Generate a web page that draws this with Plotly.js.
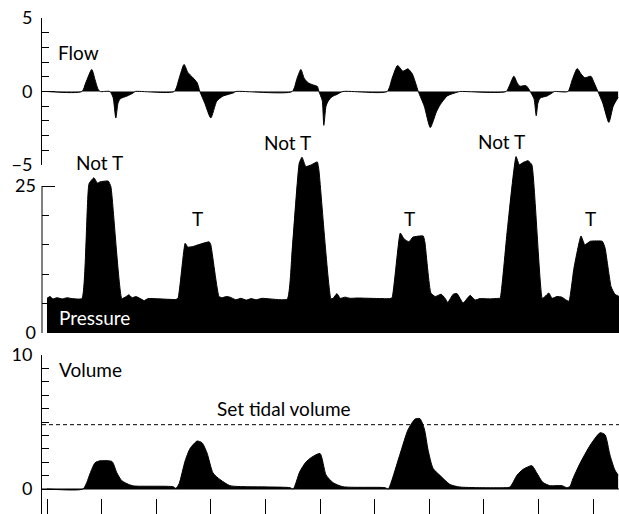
<!DOCTYPE html>
<html>
<head>
<meta charset="utf-8">
<script src="https://cdn.plot.ly/plotly-3.0.1.min.js"></script>
<style>html,body{margin:0;padding:0;background:#fff;}#chart{width:619px;height:514px;}</style>
</head>
<body>
<div id="chart"></div>
<script>
// ---- Data (time in s) ----
var flowTime = [0, 0.64, 0.71, 0.82, 0.88, 0.93, 0.97, 1.15, 1.21, 1.26, 1.30, 1.34, 1.47, 1.58, 1.61,
  2.33, 2.42, 2.51, 2.58, 2.67, 2.75, 2.80, 2.89, 3.00, 3.11, 3.22, 3.41, 3.46,
  4.49, 4.58, 4.65, 4.71, 4.78, 4.87, 4.95, 4.98, 5.04, 5.07, 5.11, 5.15, 5.22, 5.31, 5.42,
  6.23, 6.32, 6.42, 6.52, 6.61, 6.69, 6.74, 6.80, 6.91, 7.02, 7.13, 7.20, 7.33, 7.51, 7.56,
  8.41, 8.48, 8.55, 8.61, 8.66, 8.77, 8.81, 8.85, 8.92, 8.96, 8.99, 9.03, 9.16, 9.25, 9.29,
  9.54, 9.62, 9.71, 9.78, 9.85, 9.96, 10.02, 10.09, 10.18, 10.29, 10.37, 10.46];
var flowValue = [0, 0, 0.6, 1.5, 0.8, 0.2, 0, 0, -0.4, -1.8, -0.8, -0.5, -0.3, -0.1, 0,
  0, 0.9, 1.84, 1.3, 0.95, 0.6, 0, -0.8, -1.8, -0.65, -0.32, -0.1, 0,
  0, 0.9, 1.5, 0.9, 0.6, 0.45, 0.35, 0, -0.6, -2.3, -1.0, -0.65, -0.35, -0.2, 0,
  0, 0.9, 1.77, 1.38, 1.54, 1.2, 0.7, 0, -1.0, -2.45, -1.4, -0.9, -0.3, -0.05, 0,
  0, 0.5, 1.04, 0.6, 0.36, 0.4, 0.25, 0, -0.5, -1.65, -0.8, -0.45, -0.3, -0.1, 0,
  0, 0.8, 1.56, 1.2, 0.93, 1.04, 0.6, 0, -0.8, -2.1, -1.0, -0.4];

var pressureTime = [0, 0.055, 0.11, 0.18, 0.28, 0.37, 0.46, 0.64, 0.77, 0.86, 0.92, 0.97, 1.12, 1.17, 1.37,
  1.45, 1.50, 1.56, 1.63, 1.70, 1.78, 1.85, 2.36, 2.40, 2.53, 2.58, 2.67, 2.77, 2.97, 3.00, 3.15,
  3.21, 3.28, 3.35, 3.46, 3.55, 3.65, 3.74, 3.83, 3.94, 4.08, 4.40, 4.49, 4.62, 4.67, 4.74, 4.84, 4.95, 4.98, 5.20,
  5.24, 5.31, 5.37, 5.46, 5.55, 5.68, 6.28, 6.32, 6.47, 6.54, 6.63, 6.70, 6.89, 6.92, 7.03,
  7.11, 7.22, 7.29, 7.34, 7.44, 7.51, 7.62, 7.75, 7.84, 7.93, 8.11, 8.28, 8.30, 8.43, 8.59, 8.65, 8.72, 8.81, 8.88, 9.07,
  9.12, 9.19, 9.25, 9.34, 9.43, 9.51, 9.56, 9.65, 9.78, 9.85, 9.95, 10.17, 10.22, 10.33, 10.40, 10.48];
var pressureValue = [5.9, 6.2, 5.8, 6.0, 5.8, 6.0, 5.85, 5.85, 25.4, 26.4, 25.5, 25.7, 25.85, 24.9, 5.85,
  6.2, 6.5, 6.0, 6.2, 5.9, 5.5, 5.85, 5.7, 5.9, 15.25, 14.6, 14.7, 15.0, 15.5, 15.0, 6.2,
  6.0, 6.2, 6.1, 5.65, 5.9, 5.6, 5.85, 5.65, 5.9, 5.8, 5.75, 14.1, 28.9, 29.9, 28.3, 28.6, 29.1, 27.7, 5.8,
  5.9, 6.7, 5.9, 6.1, 5.9, 5.95, 5.85, 6.0, 17.0, 16.0, 15.5, 16.3, 16.5, 15.5, 6.8,
  6.2, 6.6, 5.9, 5.2, 6.6, 6.7, 5.1, 6.4, 5.6, 5.85, 5.8, 5.9, 5.9, 17.5, 30.0, 28.6, 29.0, 29.3, 28.6, 5.9,
  6.2, 6.8, 5.9, 6.2, 6.1, 5.6, 5.4, 11.0, 16.5, 15.0, 15.6, 15.6, 14.5, 7.9, 6.6, 6.2];

var volumeTime = [0, 0.66, 0.73, 0.79, 0.88, 0.97, 1.19, 1.28, 1.37, 1.52, 1.61, 2.31, 2.36,
  2.42, 2.53, 2.62, 2.75, 2.84, 2.93, 3.04, 3.17, 3.35, 3.54, 4.45, 4.51,
  4.63, 4.74, 4.84, 5.00, 5.11, 5.24, 5.42, 6.19, 6.25,
  6.32, 6.47, 6.61, 6.74, 6.83, 6.91, 6.98, 7.07, 7.20, 7.38, 7.56, 8.39,
  8.48, 8.61, 8.72, 8.88, 8.97, 9.08, 9.21, 9.43, 9.52, 9.58,
  9.63, 9.76, 9.95, 10.13, 10.22, 10.31, 10.40, 10.46];
var volumeValue = [0, 0, 0.5, 1.17, 1.96, 2.1, 2.05, 1.2, 0.62, 0.3, 0.22, 0.17, 0.05,
  0.4, 2.1, 3.03, 3.58, 3.45, 2.7, 1.2, 0.7, 0.25, 0.18, 0.1, 0.0,
  1.3, 2.0, 2.35, 2.65, 1.05, 0.47, 0.17, 0.1, 0.0,
  0.7, 2.66, 4.4, 5.22, 5.25, 4.5, 2.9, 1.54, 1.0, 0.34, 0.15, 0.1,
  0.15, 1.04, 1.47, 1.74, 1.2, 0.5, 0.25, 0.25, 0.1, 0.2,
  0.75, 1.9, 3.28, 4.2, 4.05, 2.54, 1.42, 1.04];

var setTidalVolume = 4.8;
var timeTicks = [0, 1, 2, 3, 4, 5, 6, 7, 8, 9, 10];

var flowTicks = [-5, 0, 5];
var flowTickText = ['\u22125', '0', '5'];
var flowMinorTicks = [-4, -3, -2, -1, 1, 2, 3, 4];
var pressureTicks = [0, 25];
var pressureMinorTicks = [5, 10, 15, 20];
var volumeTicks = [0, 10];
var volumeMinorTicks = [1, 2, 3, 4, 5, 6, 7, 8, 9];

// "Not T" labels sit in the gap above the pressure panel (placed on the flow scale)
var notTLabelTime = [0.96, 4.41, 8.32];
var notTLabelFlow = [-4.86, -3.44, -3.42];
var tLabelTime = [2.75, 6.63, 9.95];
var tLabelPressure = [19.4, 19.4, 19.4];

// ---- Layout geometry ----
var H = 514;
function dom(pxBottom, pxTop) { return [1 - pxBottom / H, 1 - pxTop / H]; }
var FONT = 'Lato, "DejaVu Sans", sans-serif';

var traces = [
  {x: flowTime, y: flowValue, xaxis: 'x', yaxis: 'y', type: 'scatter', mode: 'lines',
   fill: 'tozeroy', fillcolor: '#000', line: {color: '#000', width: 1, shape: 'spline', smoothing: 0.6}, hoverinfo: 'skip'},
  {x: pressureTime, y: pressureValue, xaxis: 'x', yaxis: 'y2', type: 'scatter', mode: 'lines',
   fill: 'tozeroy', fillcolor: '#000', line: {color: '#000', width: 1, shape: 'spline', smoothing: 0.4}, hoverinfo: 'skip'},
  {x: volumeTime, y: volumeValue, xaxis: 'x', yaxis: 'y3', type: 'scatter', mode: 'lines',
   fill: 'tozeroy', fillcolor: '#000', line: {color: '#000', width: 1, shape: 'spline', smoothing: 0.6}, hoverinfo: 'skip'},
  {x: [-0.0916, 10.476], y: [0, 0], xaxis: 'x', yaxis: 'y3', type: 'scatter', mode: 'lines',
   line: {color: '#000', width: 1}, hoverinfo: 'skip'},
  {x: [-0.0916, 10.476], y: [setTidalVolume, setTidalVolume], xaxis: 'x', yaxis: 'y3', type: 'scatter', mode: 'lines',
   line: {color: '#000', width: 1, dash: '4px,3px'}, hoverinfo: 'skip'}
];

function yax(domain, range, tickvals, ticktext, minor, showline) {
  return {
    domain: domain, range: range, anchor: 'x',
    tickmode: 'array', tickvals: tickvals, ticktext: ticktext,
    ticks: 'inside', ticklen: 13, tickwidth: 1, tickcolor: '#000',
    minor: {tickmode: 'array', tickvals: minor, ticks: 'inside', ticklen: 7, tickwidth: 1, tickcolor: '#000'},
    showline: showline, linecolor: '#000', linewidth: 1,
    showgrid: false, zeroline: false, fixedrange: true,
    ticklabelstandoff: 5,
    tickfont: {family: FONT, size: 18, color: '#000'}
  };
}

var annotations = [];
function ann(x, y, yref, text, opts) {
  var a = {x: x, y: y, xref: 'x', yref: yref, text: text, showarrow: false,
    font: {family: FONT, size: 19, color: '#000'}, xanchor: 'center', yanchor: 'middle'};
  for (var k in opts) a[k] = opts[k];
  annotations.push(a);
}
ann(0.165, 2.65, 'y', 'Flow', {xanchor: 'left'});
for (var i = 0; i < notTLabelTime.length; i++) ann(notTLabelTime[i], notTLabelFlow[i], 'y', 'Not T');
for (var j = 0; j < tLabelTime.length; j++) ann(tLabelTime[j], tLabelPressure[j], 'y2', 'T');
ann(0.183, 2.6, 'y2', 'Pressure', {xanchor: 'left', font: {family: FONT, size: 19, color: '#fff'}});
ann(0.183, 8.95, 'y3', 'Volume', {xanchor: 'left'});
ann(4.34, 6.0, 'y3', 'Set tidal volume');

var layout = {
  width: 619, height: 514,
  margin: {l: 42, r: 0, t: 0, b: 0, pad: 0},
  paper_bgcolor: '#fff', plot_bgcolor: 'rgba(0,0,0,0)',
  showlegend: false,
  xaxis: {range: [-0.0916, 10.476], anchor: 'y3', tickmode: 'array', tickvals: timeTicks,
    ticks: 'inside', ticklen: 15, tickwidth: 1, tickcolor: '#000',
    showticklabels: false, showline: false, showgrid: false, zeroline: false, fixedrange: true},
  yaxis: yax(dom(165, 18), [-5, 5], flowTicks, flowTickText, flowMinorTicks, true),
  yaxis2: yax(dom(333, 333 - 30.6 * 5.88), [0, 30.6], pressureTicks, ['0', '25'], pressureMinorTicks, false),
  yaxis3: yax(dom(514, 355), [-1.8657, 10], volumeTicks, ['0', '10'], volumeMinorTicks, true),
  shapes: [
    {type: 'line', xref: 'paper', yref: 'y2', x0: 0, x1: 0, y0: 0, y1: 25, line: {color: '#000', width: 1}}
  ],
  annotations: annotations
};

Plotly.newPlot('chart', traces, layout, {displayModeBar: false, staticPlot: true});
</script>
</body>
</html>
